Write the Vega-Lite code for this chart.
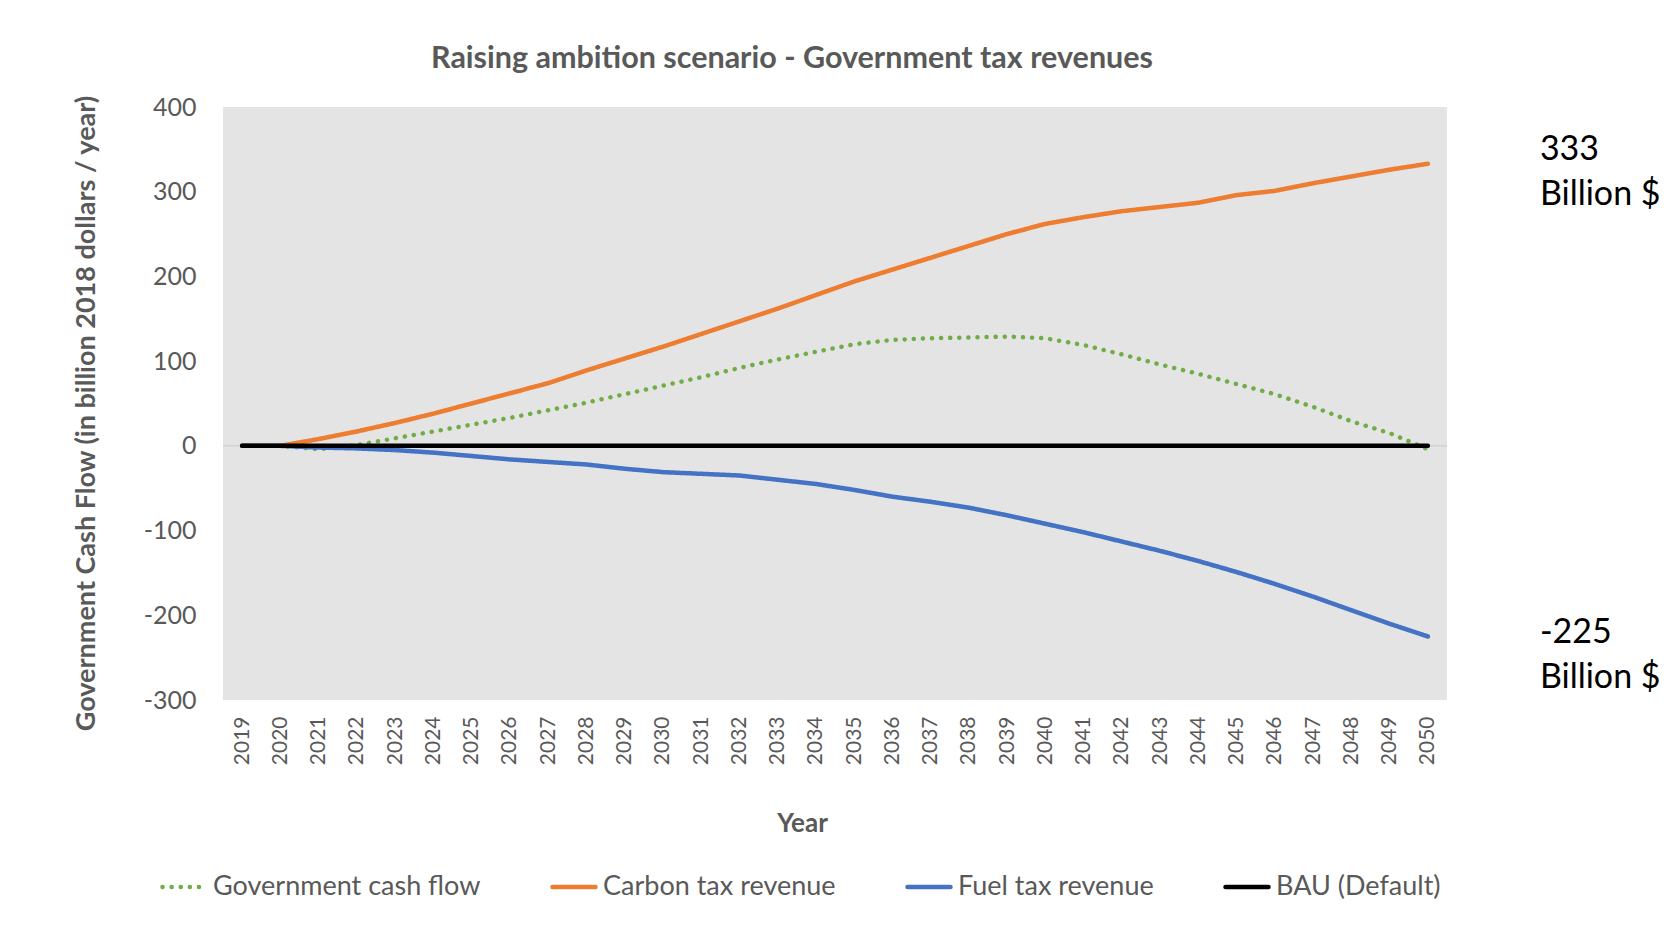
{
  "$schema": "https://vega.github.io/schema/vega-lite/v6.json",
  "width": 1224,
  "height": 593,
  "autosize": "none",
  "padding": {"left": 223, "top": 107, "right": 230, "bottom": 237},
  "background": "white",
  "title": {
    "text": "Raising ambition scenario - Government tax revenues",
    "font": "Lato", "fontSize": 30.5, "fontWeight": "bold", "color": "#595959",
    "anchor": "middle", "dx": -43, "offset": 20
  },
  "config": {"view": {"fill": "#E4E4E4", "stroke": null}, "font": "Lato"},
  "datasets": {
    "series": [
      {"year": 2019, "series": "Government cash flow", "value": 0},
      {"year": 2020, "series": "Government cash flow", "value": 0},
      {"year": 2021, "series": "Government cash flow", "value": -4},
      {"year": 2022, "series": "Government cash flow", "value": 1},
      {"year": 2023, "series": "Government cash flow", "value": 9},
      {"year": 2024, "series": "Government cash flow", "value": 17},
      {"year": 2025, "series": "Government cash flow", "value": 25},
      {"year": 2026, "series": "Government cash flow", "value": 33},
      {"year": 2027, "series": "Government cash flow", "value": 42},
      {"year": 2028, "series": "Government cash flow", "value": 51},
      {"year": 2029, "series": "Government cash flow", "value": 61},
      {"year": 2030, "series": "Government cash flow", "value": 71},
      {"year": 2031, "series": "Government cash flow", "value": 81},
      {"year": 2032, "series": "Government cash flow", "value": 92},
      {"year": 2033, "series": "Government cash flow", "value": 102},
      {"year": 2034, "series": "Government cash flow", "value": 111},
      {"year": 2035, "series": "Government cash flow", "value": 120},
      {"year": 2036, "series": "Government cash flow", "value": 125},
      {"year": 2037, "series": "Government cash flow", "value": 127},
      {"year": 2038, "series": "Government cash flow", "value": 128},
      {"year": 2039, "series": "Government cash flow", "value": 129},
      {"year": 2040, "series": "Government cash flow", "value": 127},
      {"year": 2041, "series": "Government cash flow", "value": 119},
      {"year": 2042, "series": "Government cash flow", "value": 108},
      {"year": 2043, "series": "Government cash flow", "value": 96},
      {"year": 2044, "series": "Government cash flow", "value": 85},
      {"year": 2045, "series": "Government cash flow", "value": 73},
      {"year": 2046, "series": "Government cash flow", "value": 61},
      {"year": 2047, "series": "Government cash flow", "value": 46},
      {"year": 2048, "series": "Government cash flow", "value": 29},
      {"year": 2049, "series": "Government cash flow", "value": 15},
      {"year": 2050, "series": "Government cash flow", "value": -4},
      {"year": 2019, "series": "Carbon tax revenue", "value": 0},
      {"year": 2020, "series": "Carbon tax revenue", "value": 0},
      {"year": 2021, "series": "Carbon tax revenue", "value": 8},
      {"year": 2022, "series": "Carbon tax revenue", "value": 17},
      {"year": 2023, "series": "Carbon tax revenue", "value": 27},
      {"year": 2024, "series": "Carbon tax revenue", "value": 38},
      {"year": 2025, "series": "Carbon tax revenue", "value": 50},
      {"year": 2026, "series": "Carbon tax revenue", "value": 62},
      {"year": 2027, "series": "Carbon tax revenue", "value": 74},
      {"year": 2028, "series": "Carbon tax revenue", "value": 89},
      {"year": 2029, "series": "Carbon tax revenue", "value": 103},
      {"year": 2030, "series": "Carbon tax revenue", "value": 117},
      {"year": 2031, "series": "Carbon tax revenue", "value": 132},
      {"year": 2032, "series": "Carbon tax revenue", "value": 147},
      {"year": 2033, "series": "Carbon tax revenue", "value": 162},
      {"year": 2034, "series": "Carbon tax revenue", "value": 178},
      {"year": 2035, "series": "Carbon tax revenue", "value": 194},
      {"year": 2036, "series": "Carbon tax revenue", "value": 208},
      {"year": 2037, "series": "Carbon tax revenue", "value": 222},
      {"year": 2038, "series": "Carbon tax revenue", "value": 236},
      {"year": 2039, "series": "Carbon tax revenue", "value": 250},
      {"year": 2040, "series": "Carbon tax revenue", "value": 262},
      {"year": 2041, "series": "Carbon tax revenue", "value": 270},
      {"year": 2042, "series": "Carbon tax revenue", "value": 277},
      {"year": 2043, "series": "Carbon tax revenue", "value": 282},
      {"year": 2044, "series": "Carbon tax revenue", "value": 287},
      {"year": 2045, "series": "Carbon tax revenue", "value": 296},
      {"year": 2046, "series": "Carbon tax revenue", "value": 301},
      {"year": 2047, "series": "Carbon tax revenue", "value": 310},
      {"year": 2048, "series": "Carbon tax revenue", "value": 318},
      {"year": 2049, "series": "Carbon tax revenue", "value": 326},
      {"year": 2050, "series": "Carbon tax revenue", "value": 333},
      {"year": 2019, "series": "Fuel tax revenue", "value": 0},
      {"year": 2020, "series": "Fuel tax revenue", "value": 0},
      {"year": 2021, "series": "Fuel tax revenue", "value": -2},
      {"year": 2022, "series": "Fuel tax revenue", "value": -3},
      {"year": 2023, "series": "Fuel tax revenue", "value": -5},
      {"year": 2024, "series": "Fuel tax revenue", "value": -8},
      {"year": 2025, "series": "Fuel tax revenue", "value": -12},
      {"year": 2026, "series": "Fuel tax revenue", "value": -16},
      {"year": 2027, "series": "Fuel tax revenue", "value": -19},
      {"year": 2028, "series": "Fuel tax revenue", "value": -22},
      {"year": 2029, "series": "Fuel tax revenue", "value": -27},
      {"year": 2030, "series": "Fuel tax revenue", "value": -31},
      {"year": 2031, "series": "Fuel tax revenue", "value": -33},
      {"year": 2032, "series": "Fuel tax revenue", "value": -35},
      {"year": 2033, "series": "Fuel tax revenue", "value": -40},
      {"year": 2034, "series": "Fuel tax revenue", "value": -45},
      {"year": 2035, "series": "Fuel tax revenue", "value": -52},
      {"year": 2036, "series": "Fuel tax revenue", "value": -60},
      {"year": 2037, "series": "Fuel tax revenue", "value": -66},
      {"year": 2038, "series": "Fuel tax revenue", "value": -73},
      {"year": 2039, "series": "Fuel tax revenue", "value": -82},
      {"year": 2040, "series": "Fuel tax revenue", "value": -92},
      {"year": 2041, "series": "Fuel tax revenue", "value": -102},
      {"year": 2042, "series": "Fuel tax revenue", "value": -113},
      {"year": 2043, "series": "Fuel tax revenue", "value": -124},
      {"year": 2044, "series": "Fuel tax revenue", "value": -136},
      {"year": 2045, "series": "Fuel tax revenue", "value": -149},
      {"year": 2046, "series": "Fuel tax revenue", "value": -163},
      {"year": 2047, "series": "Fuel tax revenue", "value": -178},
      {"year": 2048, "series": "Fuel tax revenue", "value": -194},
      {"year": 2049, "series": "Fuel tax revenue", "value": -210},
      {"year": 2050, "series": "Fuel tax revenue", "value": -225},
      {"year": 2019, "series": "BAU (Default)", "value": 0},
      {"year": 2020, "series": "BAU (Default)", "value": 0},
      {"year": 2021, "series": "BAU (Default)", "value": 0},
      {"year": 2022, "series": "BAU (Default)", "value": 0},
      {"year": 2023, "series": "BAU (Default)", "value": 0},
      {"year": 2024, "series": "BAU (Default)", "value": 0},
      {"year": 2025, "series": "BAU (Default)", "value": 0},
      {"year": 2026, "series": "BAU (Default)", "value": 0},
      {"year": 2027, "series": "BAU (Default)", "value": 0},
      {"year": 2028, "series": "BAU (Default)", "value": 0},
      {"year": 2029, "series": "BAU (Default)", "value": 0},
      {"year": 2030, "series": "BAU (Default)", "value": 0},
      {"year": 2031, "series": "BAU (Default)", "value": 0},
      {"year": 2032, "series": "BAU (Default)", "value": 0},
      {"year": 2033, "series": "BAU (Default)", "value": 0},
      {"year": 2034, "series": "BAU (Default)", "value": 0},
      {"year": 2035, "series": "BAU (Default)", "value": 0},
      {"year": 2036, "series": "BAU (Default)", "value": 0},
      {"year": 2037, "series": "BAU (Default)", "value": 0},
      {"year": 2038, "series": "BAU (Default)", "value": 0},
      {"year": 2039, "series": "BAU (Default)", "value": 0},
      {"year": 2040, "series": "BAU (Default)", "value": 0},
      {"year": 2041, "series": "BAU (Default)", "value": 0},
      {"year": 2042, "series": "BAU (Default)", "value": 0},
      {"year": 2043, "series": "BAU (Default)", "value": 0},
      {"year": 2044, "series": "BAU (Default)", "value": 0},
      {"year": 2045, "series": "BAU (Default)", "value": 0},
      {"year": 2046, "series": "BAU (Default)", "value": 0},
      {"year": 2047, "series": "BAU (Default)", "value": 0},
      {"year": 2048, "series": "BAU (Default)", "value": 0},
      {"year": 2049, "series": "BAU (Default)", "value": 0},
      {"year": 2050, "series": "BAU (Default)", "value": 0}
    ],
    "notes": [
      {"year": 2050, "value": 333, "label": "333\nBillion $"},
      {"year": 2050, "value": -225, "label": "-225\nBillion $"}
    ],
    "zero": [{"value": 0}]
  },
  "layer": [
    {
      "data": {"name": "zero"},
      "mark": {"type": "rule", "color": "#D2D2D2", "strokeWidth": 1.5},
      "encoding": {"y": {"field": "value", "type": "quantitative"}}
    },
    {
      "data": {"name": "series"},
      "mark": {"type": "line", "strokeWidth": 4.5, "strokeCap": "round", "strokeJoin": "round"},
      "encoding": {
        "x": {
          "field": "year", "type": "ordinal",
          "scale": {"type": "point", "padding": 0.5},
          "title": "Year",
          "axis": {
            "labelAngle": 270, "labelFontSize": 21, "labelColor": "#595959", "labelFont": "Lato",
            "labelPadding": 16, "ticks": false, "domain": false, "grid": false,
            "titleFontSize": 26, "titleFontWeight": "bold", "titleColor": "#595959", "titleFont": "Lato",
            "titlePadding": 46, "titleX": 579
          }
        },
        "y": {
          "field": "value", "type": "quantitative",
          "scale": {"domain": [-300, 400], "nice": false, "zero": false},
          "title": "Government Cash Flow (in billion 2018 dollars / year)",
          "axis": {
            "values": [-300, -200, -100, 0, 100, 200, 300, 400],
            "labelExpr": "replace(datum.label, '−', '-')",
            "labelFontSize": 25, "labelColor": "#595959", "labelFont": "Lato",
            "labelPadding": 27, "ticks": false, "domain": false, "grid": false,
            "titleFontSize": 27, "titleFontWeight": "bold", "titleColor": "#595959", "titleFont": "Lato",
            "titlePadding": 43, "titleY": 306
          }
        },
        "color": {
          "field": "series", "type": "nominal",
          "scale": {
            "domain": ["Government cash flow", "Carbon tax revenue", "Fuel tax revenue", "BAU (Default)"],
            "range": ["#70AD47", "#ED7D31", "#4472C4", "#000000"]
          },
          "legend": {
            "title": null, "orient": "none", "legendX": -63, "legendY": 756,
            "direction": "horizontal", "symbolType": "stroke", "symbolSize": 1850,
            "symbolStrokeWidth": 4.5, "labelFontSize": 27, "labelColor": "#595959", "labelFont": "Lato",
            "labelOffset": 5, "columnPadding": 62, "labelLimit": 400,
            "encode": {"symbols": {"update": {"strokeCap": {"value": "round"}}}}
          }
        },
        "strokeDash": {
          "field": "series", "type": "nominal",
          "scale": {
            "domain": ["Government cash flow", "Carbon tax revenue", "Fuel tax revenue", "BAU (Default)"],
            "range": [[0.1, 9], [1, 0], [1, 0], [1, 0]]
          }
        }
      }
    },
    {
      "data": {"name": "notes"},
      "transform": [{"filter": "datum.value > 0"}],
      "mark": {"type": "text", "align": "left", "baseline": "middle", "dx": 112, "dy": -14,
               "font": "Lato", "fontSize": 34, "lineHeight": 45, "lineBreak": "\n", "color": "#000000"},
      "encoding": {
        "x": {"field": "year", "type": "ordinal"},
        "y": {"field": "value", "type": "quantitative"},
        "text": {"field": "label"}
      }
    },
    {
      "data": {"name": "notes"},
      "transform": [{"filter": "datum.value < 0"}],
      "mark": {"type": "text", "align": "left", "baseline": "middle", "dx": 112, "dy": -3,
               "font": "Lato", "fontSize": 34, "lineHeight": 45, "lineBreak": "\n", "color": "#000000"},
      "encoding": {
        "x": {"field": "year", "type": "ordinal"},
        "y": {"field": "value", "type": "quantitative"},
        "text": {"field": "label"}
      }
    }
  ]
}
